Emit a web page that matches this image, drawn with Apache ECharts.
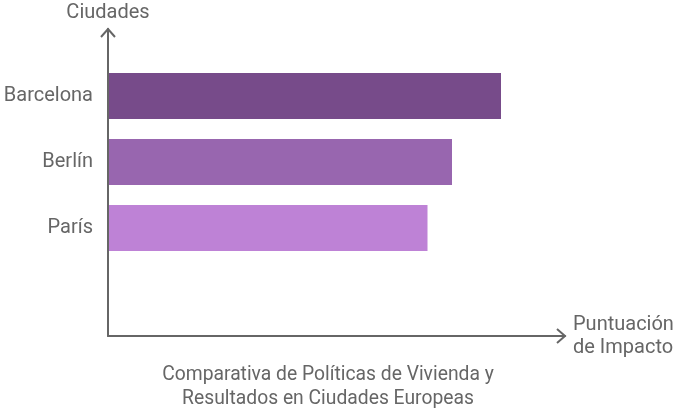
<!DOCTYPE html>
<html>
<head>
<meta charset="utf-8">
<script src="https://cdn.jsdelivr.net/npm/echarts@6/dist/echarts.min.js"></script>
<style>html,body{margin:0;padding:0;background:#fff}#c{width:678px;height:408px}</style>
</head>
<body>
<div id="c"></div>
<script>
const categories = ['Barcelona', 'Berlín', 'París'];
const values = [8, 7, 6.5];
const barColors = ['#774B8A', '#9866AF', '#BE82D6'];
const xAxisName = 'Puntuación\nde Impacto';
const yAxisName = 'Ciudades';
const titleText = 'Comparativa de Políticas de Vivienda y\nResultados en Ciudades Europeas';

const W = 678, H = 408;
const axisX = 108, axisY = 336, axisTop = 29, axisRight = 565;
const gray = '#666666';
const font = 'Roboto, "Noto Sans", sans-serif';

const chart = echarts.init(document.getElementById('c'), null, {renderer: 'canvas'});
chart.setOption({
  animation: false,
  backgroundColor: '#fff',
  title: {
    text: titleText, left: 323, top: 358, textAlign: 'center',
    textStyle: {color: gray, fontSize: 19.3, fontWeight: 'normal', fontFamily: font, lineHeight: 24}
  },
  grid: [
    {left: axisX + 1, top: 63, width: 490, height: 198},
    {left: axisX, top: axisTop, right: W - axisRight, bottom: H - axisY}
  ],
  xAxis: [
    {gridIndex: 0, type: 'value', min: 0, max: 10, show: false},
    {gridIndex: 1, type: 'value', min: 0, max: 1,
     axisLine: {show: true, lineStyle: {color: gray, width: 2}},
     axisTick: {show: false}, axisLabel: {show: false}, splitLine: {show: false},
     name: xAxisName, nameLocation: 'end', nameGap: 8,
     nameTextStyle: {color: gray, fontSize: 20, fontFamily: font, align: 'left', verticalAlign: 'middle', lineHeight: 23}}
  ],
  yAxis: [
    {gridIndex: 0, type: 'category', data: categories, inverse: true,
     axisLine: {show: false}, axisTick: {show: false},
     axisLabel: {color: gray, fontSize: 20, fontFamily: font, margin: 16, padding: [5, 0, 0, 0]}},
    {gridIndex: 1, type: 'value', min: 0, max: 1,
     axisLine: {show: true, lineStyle: {color: gray, width: 2}},
     axisTick: {show: false}, axisLabel: {show: false}, splitLine: {show: false},
     name: yAxisName, nameLocation: 'end', nameGap: 16,
     nameTextStyle: {color: gray, fontSize: 20, fontFamily: font, align: 'center', verticalAlign: 'middle', padding: [2, 0, 0, 0]}}
  ],
  series: [{
    type: 'bar', xAxisIndex: 0, yAxisIndex: 0,
    barWidth: 46,
    data: values.map((v, i) => ({value: v, itemStyle: {color: barColors[i]}}))
  }],
  graphic: [
    {type: 'polyline', shape: {points: [[axisRight - 8, axisY - 7], [axisRight, axisY], [axisRight - 8, axisY + 7]]},
     style: {stroke: gray, lineWidth: 2, fill: null}},
    {type: 'polyline', shape: {points: [[axisX - 7, axisTop + 8], [axisX, axisTop], [axisX + 7, axisTop + 8]]},
     style: {stroke: gray, lineWidth: 2, fill: null}}
  ]
});
</script>
</body>
</html>
